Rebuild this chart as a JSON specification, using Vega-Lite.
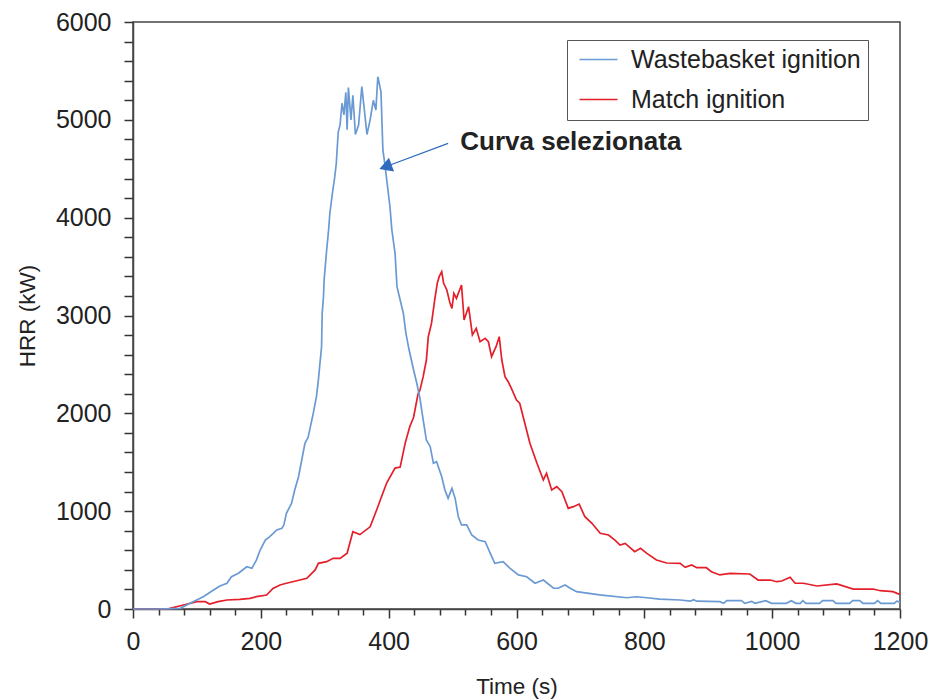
{
  "$schema": "https://vega.github.io/schema/vega-lite/v6.json",
  "width": 767,
  "height": 587,
  "autosize": "none",
  "padding": {"left": 133, "top": 22, "right": 43, "bottom": 91},
  "background": "white",
  "config": {
    "font": "Liberation Sans",
    "view": {"stroke": "#444", "strokeWidth": 1.5},
    "axis": {"grid": false, "labelColor": "#222", "titleColor": "#222", "labelFont": "Liberation Sans", "titleFont": "Liberation Sans", "labelFontSize": 25, "titleFontSize": 22.5, "titleFontWeight": "normal"}
  },
  "datasets": {
    "wb": [
      {"t":0,"hrr":0},{"t":40,"hrr":0},{"t":60,"hrr":3},{"t":74,"hrr":7},{"t":94,"hrr":75},{"t":110,"hrr":126},{"t":126,"hrr":194},{"t":136,"hrr":235},{"t":147,"hrr":263},{"t":154,"hrr":330},{"t":165,"hrr":365},{"t":178,"hrr":432},{"t":186,"hrr":416},{"t":193,"hrr":500},{"t":199,"hrr":603},{"t":207,"hrr":705},{"t":214,"hrr":740},{"t":225,"hrr":808},{"t":233,"hrr":825},{"t":236,"hrr":858},{"t":240,"hrr":978},{"t":248,"hrr":1080},{"t":253,"hrr":1216},{"t":259,"hrr":1352},{"t":264,"hrr":1523},{"t":269,"hrr":1694},{"t":274,"hrr":1755},{"t":282,"hrr":2000},{"t":287,"hrr":2170},{"t":290,"hrr":2340},{"t":293,"hrr":2545},{"t":295,"hrr":2681},{"t":296,"hrr":3022},{"t":298,"hrr":3192},{"t":299,"hrr":3363},{"t":303,"hrr":3670},{"t":306,"hrr":3874},{"t":308,"hrr":4045},{"t":312,"hrr":4250},{"t":315,"hrr":4385},{"t":318,"hrr":4550},{"t":321,"hrr":4870},{"t":324,"hrr":4950},{"t":327,"hrr":5170},{"t":330,"hrr":5050},{"t":333,"hrr":5280},{"t":335,"hrr":4900},{"t":337,"hrr":5330},{"t":341,"hrr":5000},{"t":344,"hrr":5250},{"t":348,"hrr":4850},{"t":353,"hrr":4950},{"t":358,"hrr":5340},{"t":362,"hrr":5100},{"t":366,"hrr":4850},{"t":371,"hrr":5000},{"t":376,"hrr":5200},{"t":380,"hrr":5100},{"t":383,"hrr":5440},{"t":386,"hrr":5350},{"t":388,"hrr":5280},{"t":391,"hrr":4690},{"t":394,"hrr":4550},{"t":397,"hrr":4385},{"t":402,"hrr":4112},{"t":405,"hrr":3874},{"t":410,"hrr":3636},{"t":413,"hrr":3295},{"t":418,"hrr":3158},{"t":423,"hrr":3022},{"t":427,"hrr":2818},{"t":432,"hrr":2647},{"t":439,"hrr":2443},{"t":444,"hrr":2307},{"t":449,"hrr":2150},{"t":454,"hrr":1932},{"t":459,"hrr":1727},{"t":465,"hrr":1659},{"t":470,"hrr":1489},{"t":475,"hrr":1506},{"t":483,"hrr":1352},{"t":488,"hrr":1216},{"t":493,"hrr":1131},{"t":499,"hrr":1234},{"t":504,"hrr":1131},{"t":509,"hrr":943},{"t":514,"hrr":859},{"t":522,"hrr":859},{"t":530,"hrr":756},{"t":540,"hrr":705},{"t":551,"hrr":688},{"t":559,"hrr":569},{"t":566,"hrr":467},{"t":579,"hrr":484},{"t":590,"hrr":416},{"t":603,"hrr":348},{"t":616,"hrr":330},{"t":629,"hrr":263},{"t":642,"hrr":296},{"t":658,"hrr":212},{"t":665,"hrr":212},{"t":676,"hrr":245},{"t":684,"hrr":212},{"t":694,"hrr":177},{"t":730,"hrr":145},{"t":773,"hrr":115},{"t":788,"hrr":125},{"t":804,"hrr":115},{"t":824,"hrr":100},{"t":856,"hrr":92},{"t":872,"hrr":80},{"t":877,"hrr":95},{"t":882,"hrr":80},{"t":918,"hrr":75},{"t":924,"hrr":58},{"t":929,"hrr":85},{"t":952,"hrr":85},{"t":957,"hrr":58},{"t":968,"hrr":78},{"t":973,"hrr":58},{"t":990,"hrr":85},{"t":999,"hrr":58},{"t":1022,"hrr":58},{"t":1030,"hrr":85},{"t":1037,"hrr":58},{"t":1044,"hrr":58},{"t":1048,"hrr":85},{"t":1053,"hrr":58},{"t":1074,"hrr":58},{"t":1079,"hrr":85},{"t":1095,"hrr":85},{"t":1100,"hrr":58},{"t":1121,"hrr":58},{"t":1126,"hrr":85},{"t":1137,"hrr":85},{"t":1142,"hrr":58},{"t":1160,"hrr":58},{"t":1165,"hrr":85},{"t":1170,"hrr":58},{"t":1191,"hrr":58},{"t":1195,"hrr":80},{"t":1200,"hrr":70}
    ],
    "mi": [
      {"t":0,"hrr":0},{"t":55,"hrr":0},{"t":58,"hrr":7},{"t":79,"hrr":41},{"t":100,"hrr":75},{"t":113,"hrr":75},{"t":120,"hrr":51},{"t":133,"hrr":75},{"t":147,"hrr":92},{"t":167,"hrr":99},{"t":183,"hrr":109},{"t":193,"hrr":126},{"t":209,"hrr":143},{"t":219,"hrr":211},{"t":230,"hrr":245},{"t":240,"hrr":263},{"t":261,"hrr":296},{"t":272,"hrr":314},{"t":285,"hrr":399},{"t":290,"hrr":467},{"t":303,"hrr":484},{"t":313,"hrr":518},{"t":324,"hrr":518},{"t":335,"hrr":570},{"t":344,"hrr":790},{"t":355,"hrr":760},{"t":371,"hrr":840},{"t":381,"hrr":1010},{"t":391,"hrr":1185},{"t":397,"hrr":1290},{"t":410,"hrr":1440},{"t":418,"hrr":1450},{"t":426,"hrr":1700},{"t":433,"hrr":1863},{"t":439,"hrr":1960},{"t":446,"hrr":2200},{"t":449,"hrr":2238},{"t":454,"hrr":2375},{"t":459,"hrr":2545},{"t":462,"hrr":2783},{"t":467,"hrr":2920},{"t":472,"hrr":3158},{"t":476,"hrr":3329},{"t":479,"hrr":3397},{"t":483,"hrr":3448},{"t":486,"hrr":3329},{"t":491,"hrr":3261},{"t":496,"hrr":3124},{"t":499,"hrr":3073},{"t":502,"hrr":3227},{"t":506,"hrr":3175},{"t":512,"hrr":3278},{"t":514,"hrr":3312},{"t":518,"hrr":2954},{"t":525,"hrr":3090},{"t":531,"hrr":2801},{"t":537,"hrr":2869},{"t":543,"hrr":2732},{"t":551,"hrr":2767},{"t":556,"hrr":2732},{"t":561,"hrr":2579},{"t":568,"hrr":2681},{"t":573,"hrr":2784},{"t":577,"hrr":2545},{"t":582,"hrr":2375},{"t":587,"hrr":2323},{"t":592,"hrr":2256},{"t":600,"hrr":2136},{"t":605,"hrr":2103},{"t":613,"hrr":1898},{"t":621,"hrr":1694},{"t":632,"hrr":1489},{"t":642,"hrr":1319},{"t":647,"hrr":1387},{"t":655,"hrr":1216},{"t":663,"hrr":1250},{"t":671,"hrr":1199},{"t":681,"hrr":1029},{"t":689,"hrr":1046},{"t":698,"hrr":1073},{"t":707,"hrr":943},{"t":718,"hrr":876},{"t":731,"hrr":774},{"t":744,"hrr":756},{"t":754,"hrr":705},{"t":762,"hrr":654},{"t":770,"hrr":671},{"t":785,"hrr":586},{"t":794,"hrr":620},{"t":804,"hrr":569},{"t":819,"hrr":501},{"t":835,"hrr":470},{"t":856,"hrr":467},{"t":864,"hrr":426},{"t":874,"hrr":450},{"t":882,"hrr":422},{"t":897,"hrr":422},{"t":905,"hrr":381},{"t":918,"hrr":348},{"t":934,"hrr":365},{"t":965,"hrr":358},{"t":978,"hrr":296},{"t":997,"hrr":296},{"t":1007,"hrr":279},{"t":1015,"hrr":286},{"t":1028,"hrr":324},{"t":1036,"hrr":263},{"t":1049,"hrr":263},{"t":1070,"hrr":235},{"t":1101,"hrr":256},{"t":1127,"hrr":204},{"t":1158,"hrr":204},{"t":1169,"hrr":187},{"t":1189,"hrr":177},{"t":1198,"hrr":153},{"t":1200,"hrr":160}
    ],
    "note": [
      {"t": 512, "hrr": 4775, "label": "Curva selezionata", "t2": 395, "hrr2": 4520, "ts": 493, "hs": 4760}
    ]
  },
  "layer": [
    {
      "data": {"name": "mi"},
      "mark": {"type": "line", "strokeWidth": 1.7},
      "encoding": {
        "x": {"field": "t", "type": "quantitative", "scale": {"domain": [0, 1200], "nice": false},
          "axis": {"orient": "bottom", "title": "Time (s)", "tickCount": 100, "values": [0, 40, 80, 120, 160, 200, 240, 280, 320, 360, 400, 440, 480, 520, 560, 600, 640, 680, 720, 760, 800, 840, 880, 920, 960, 1000, 1040, 1080, 1120, 1160, 1200],
            "labelExpr": "datum.value % 200 == 0 ? format(datum.value, 'd') : ''",
            "ticks": true, "domain": true, "domainColor": "#444", "domainWidth": 1.5, "tickColor": "#333", "tickWidth": 1.5, "tickOpacity": 1,
            "tickSize": {"condition": {"test": "datum.value % 200 == 0", "value": 9}, "value": 6},
            "labelPadding": 11, "titlePadding": 21, "labelFlush": false, "labelOverlap": false}},
        "y": {"field": "hrr", "type": "quantitative", "scale": {"domain": [0, 6000], "nice": false},
          "axis": {"orient": "left", "title": "HRR (kW)", "tickCount": 100, "values": [0, 200, 400, 600, 800, 1000, 1200, 1400, 1600, 1800, 2000, 2200, 2400, 2600, 2800, 3000, 3200, 3400, 3600, 3800, 4000, 4200, 4400, 4600, 4800, 5000, 5200, 5400, 5600, 5800, 6000],
            "labelExpr": "datum.value % 1000 == 0 ? format(datum.value, 'd') : ''",
            "ticks": true, "domain": true, "domainColor": "#444", "domainWidth": 1.5, "tickColor": "#333", "tickWidth": 1.5, "tickOpacity": 1, "tickSize": 9,
            "labelPadding": 13, "titlePadding": 16, "labelFlush": false, "labelOverlap": false}},
        "color": {"datum": "Match ignition", "type": "nominal", "scale": {"domain": ["Wastebasket ignition", "Match ignition"], "range": ["#6a9ad3", "#e41f2a"]},
          "legend": {"title": null, "orient": "none", "legendX": 434, "legendY": 18, "symbolType": "M-0.7,0H3.1", "symbolSize": 400, "symbolStrokeWidth": 1.6, "symbolOffset": 0, "labelFontSize": 25, "labelLimit": 400, "labelColor": "#222", "labelFont": "Liberation Sans", "labelOffset": 32, "padding": 7, "rowPadding": 14, "strokeColor": "#555", "fillColor": "white"}}
      }
    },
    {
      "data": {"name": "wb"},
      "mark": {"type": "line", "strokeWidth": 1.7},
      "encoding": {
        "x": {"field": "t", "type": "quantitative"},
        "y": {"field": "hrr", "type": "quantitative"},
        "color": {"datum": "Wastebasket ignition", "type": "nominal"}
      }
    },
    {
      "data": {"name": "note"},
      "mark": {"type": "rule", "color": "#2e6bbf", "strokeWidth": 1.2},
      "encoding": {
        "x": {"field": "ts", "type": "quantitative"},
        "y": {"field": "hs", "type": "quantitative"},
        "x2": {"field": "t2"},
        "y2": {"field": "hrr2"}
      }
    },
    {
      "data": {"name": "note"},
      "mark": {"type": "point", "shape": "triangle-left", "filled": true, "color": "#2e6bbf", "size": 220, "angle": 340, "opacity": 1},
      "encoding": {
        "x": {"field": "t2", "type": "quantitative"},
        "y": {"field": "hrr2", "type": "quantitative"}
      }
    },
    {
      "data": {"name": "note"},
      "mark": {"type": "text", "align": "left", "baseline": "middle", "fontSize": 26, "fontWeight": "bold", "font": "Liberation Sans", "color": "#222"},
      "encoding": {
        "x": {"field": "t", "type": "quantitative"},
        "y": {"field": "hrr", "type": "quantitative"},
        "text": {"field": "label"}
      }
    }
  ]
}
